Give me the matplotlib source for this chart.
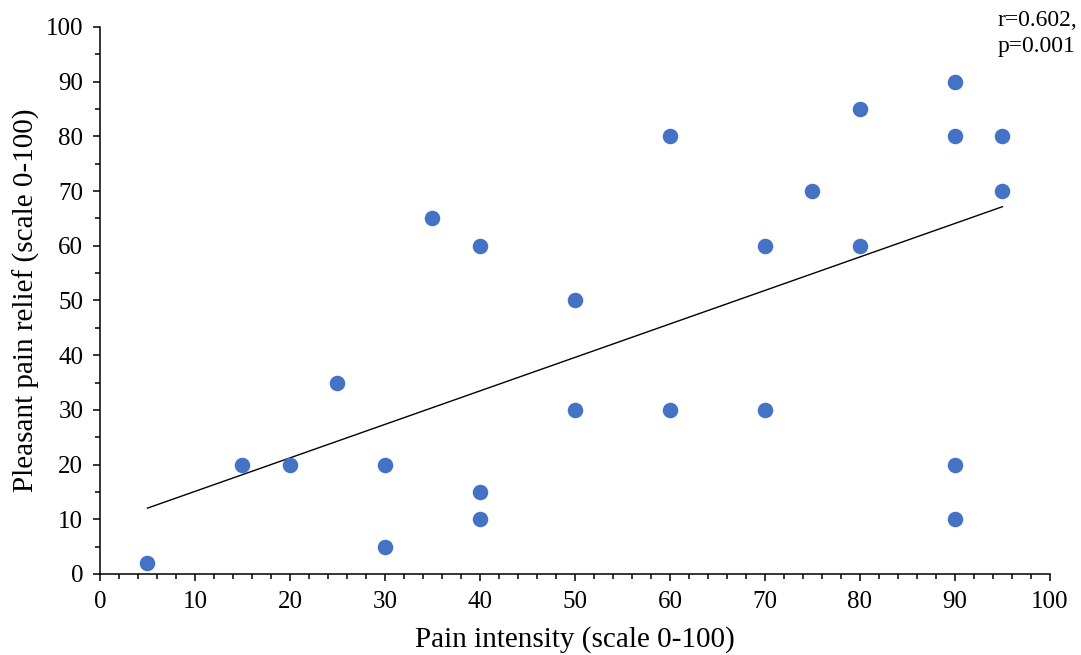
import numpy as np
import matplotlib.pyplot as plt
from matplotlib.ticker import MultipleLocator

plt.rcParams['font.family'] = ['Liberation Serif', 'DejaVu Serif']

# pain intensity vs pleasant pain relief
pain_intensity = [5, 15, 20, 25, 30, 30, 35, 40, 40, 40, 50, 50, 60, 60,
                  70, 70, 75, 80, 80, 90, 90, 90, 90, 95, 95]
pain_relief = [2, 20, 20, 35, 20, 5, 65, 60, 15, 10, 50, 30, 80, 30,
               60, 30, 70, 85, 60, 90, 80, 20, 10, 80, 70]
stats_text = 'r=0.602,\np=0.001'

fig = plt.figure(figsize=(10.81, 6.55), dpi=100)
ax = fig.add_axes([0.0925, 0.1237, 0.8788, 0.8351])

ax.scatter(pain_intensity, pain_relief, s=125, color='#4472C4', zorder=3, linewidths=0)

# linear trendline
slope, intercept = np.polyfit(pain_intensity, pain_relief, 1)
xs = np.array([min(pain_intensity), max(pain_intensity)])
ax.plot(xs, slope * xs + intercept, color='black', linewidth=1)

ax.set_xlim(0, 100)
ax.set_ylim(0, 100)
ax.xaxis.set_major_locator(MultipleLocator(10))
ax.xaxis.set_minor_locator(MultipleLocator(2))
ax.yaxis.set_major_locator(MultipleLocator(10))
ax.yaxis.set_minor_locator(MultipleLocator(5))
ax.tick_params(which='major', length=5, width=1.1, labelsize=18, direction='out', pad=7)
ax.tick_params(which='minor', length=3.6, width=1.1, direction='out')

ax.spines['top'].set_visible(False)
ax.spines['right'].set_visible(False)
ax.spines['left'].set_linewidth(1.1)
ax.spines['bottom'].set_linewidth(1.1)

ax.set_xlabel('Pain intensity (scale 0-100)', fontsize=21, labelpad=10)
ax.set_ylabel('Pleasant pain relief (scale 0-100)', fontsize=21, labelpad=4)

fig.text(0.923, 0.985, stats_text, fontsize=17, va='top', ha='left', linespacing=1.3)

fig.savefig('out.png', dpi=100)
